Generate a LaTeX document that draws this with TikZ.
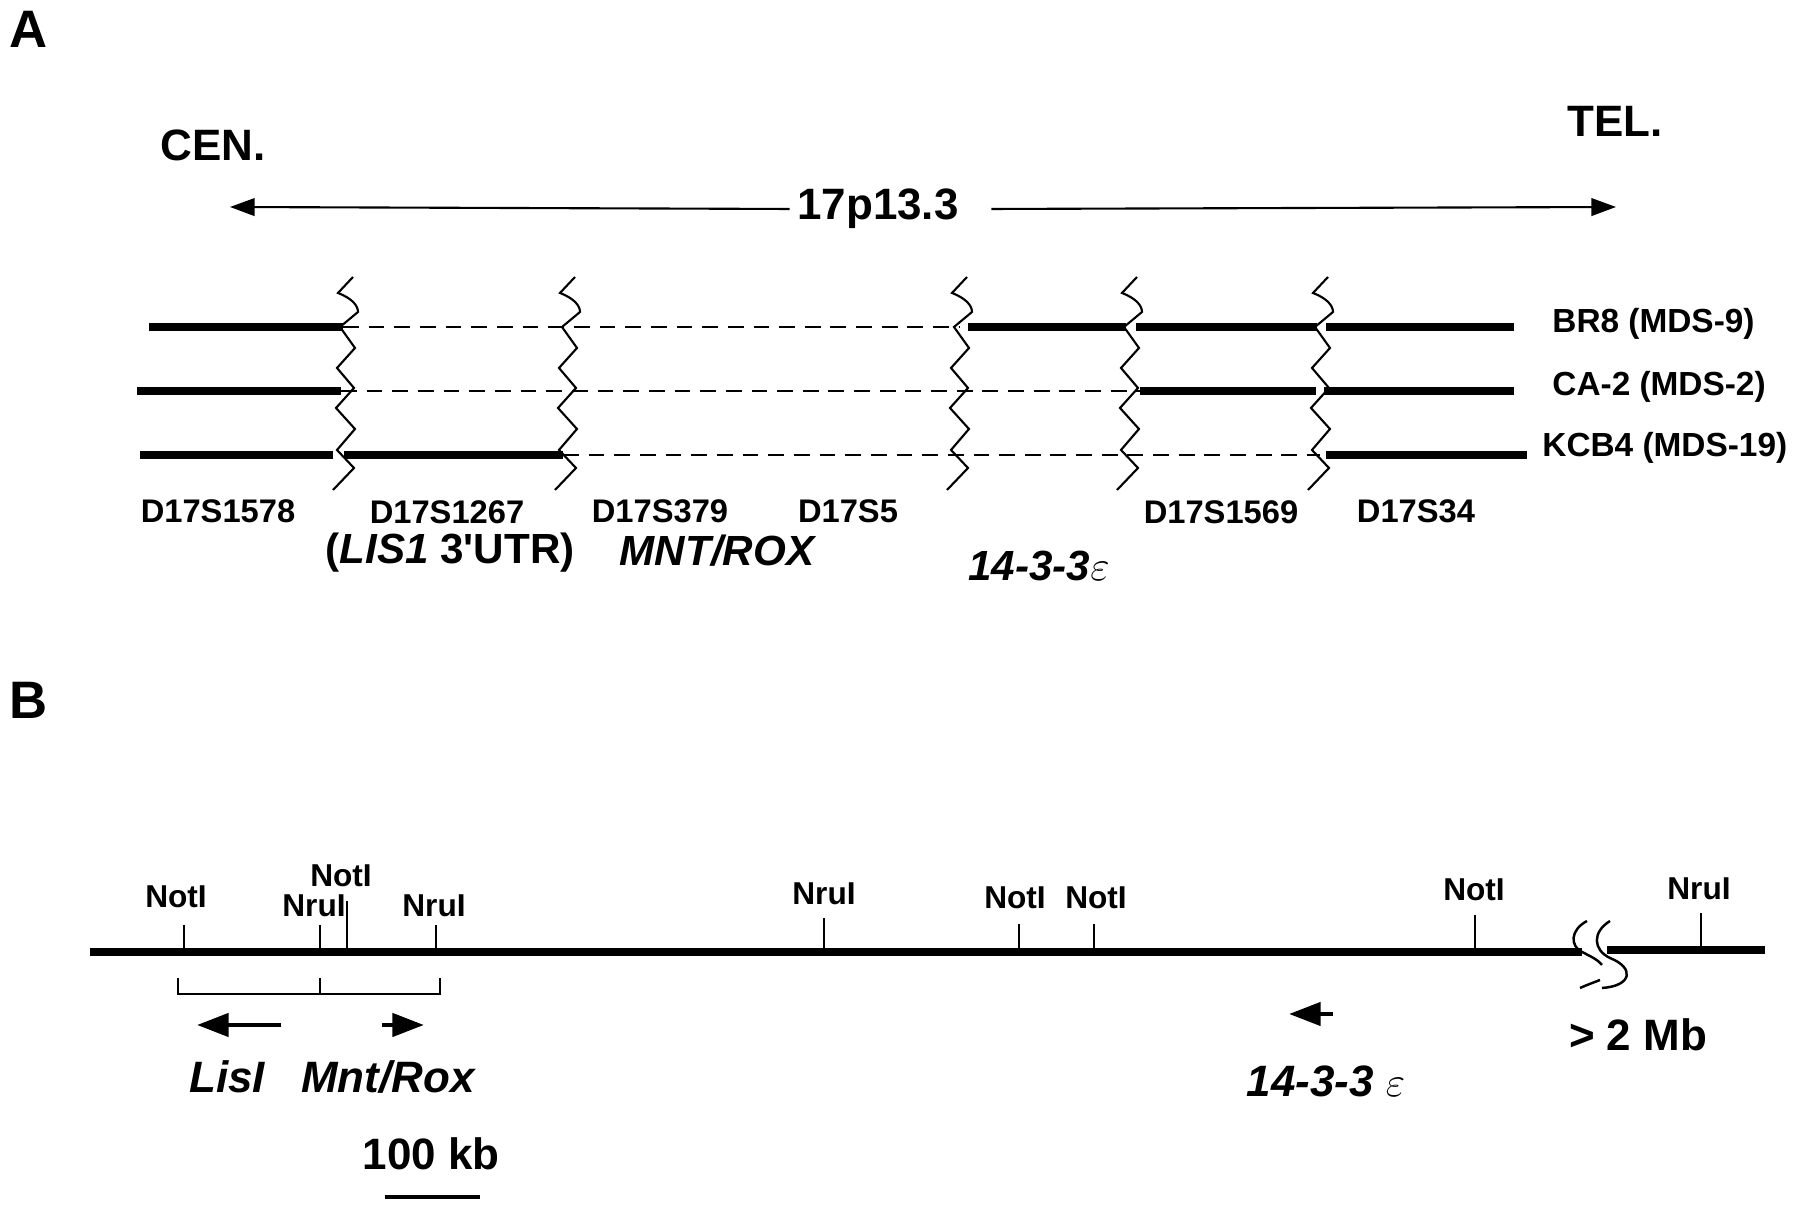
\documentclass[tikz,border=0pt]{standalone}
\usepackage{fontspec}
\setmainfont{Liberation Sans}
\usetikzlibrary{arrows.meta}

\begin{document}
\begin{tikzpicture}[x=1cm,y=-1cm,
  seg/.style={line width=2.3pt},
  gapline/.style={line width=0.55pt, dash pattern=on 4.5pt off 2.8pt},
  brk/.style={line width=0.6pt},
  site/.style={line width=0.5pt},
  panel/.style={font=\fontsize{15}{17}\selectfont\bfseries},
  marker/.style={font=\fontsize{9.3}{11}\selectfont\bfseries},
  patient/.style={font=\fontsize{9.5}{11}\selectfont\bfseries, anchor=west},
  enzyme/.style={font=\fontsize{9}{11}\selectfont\bfseries},
  genename/.style={font=\fontsize{12}{14}\selectfont\bfseries},
  bigtext/.style={font=\fontsize{12.5}{15}\selectfont\bfseries},
  gene/.style={line width=1.4pt, -{Triangle[length=9pt,width=6.5pt]}}]
\useasboundingbox (0,0) rectangle (18,12.05);

% Panel A
\node[panel] (pa) at (0.29,0.29) {A};
\node[bigtext] (cen) at (2.13,1.45) {CEN.};
\node[bigtext] (tel) at (16.15,1.21) {TEL.};

% Chromosome band with arrows to both ends
\node[bigtext, inner sep=2pt] (band) at (8.78,2.09) {17p13.3};
\coordinate (cenend) at (2.30,2.07);
\coordinate (telend) at (16.16,2.07);
\draw[line width=0.6pt, -{Triangle[length=7pt,width=5pt]}] (band.west) -- (cenend);
\draw[line width=0.6pt, -{Triangle[length=7pt,width=5pt]}] ([xshift=0.25cm]band.east) -- (telend);

% Retained regions (solid) and deleted regions (dashed)
\draw[seg] (1.49,3.27) -- (3.43,3.27);
\draw[gapline] (3.43,3.27) -- (9.60,3.27);
\draw[seg] (9.68,3.27) -- (11.26,3.27);
\draw[seg] (11.36,3.27) -- (13.17,3.27);
\draw[seg] (13.26,3.27) -- (15.14,3.27);

\draw[seg] (1.37,3.91) -- (3.41,3.91);
\draw[gapline] (3.41,3.91) -- (11.40,3.91);
\draw[seg] (11.40,3.91) -- (13.16,3.91);
\draw[seg] (13.24,3.91) -- (15.14,3.91);

\draw[seg] (1.40,4.55) -- (3.33,4.55);
\draw[seg] (3.44,4.55) -- (5.63,4.55);
\draw[gapline] (5.63,4.55) -- (13.20,4.55);
\draw[seg] (13.26,4.55) -- (15.27,4.55);

% Breaks between markers
\foreach \bx in {3.46,5.68,9.60,11.30,13.21} {
  \draw[brk] (\bx+0.07,2.77) -- (\bx-0.08,2.93)
    .. controls (\bx+0.05,2.98) and (\bx+0.12,3.05) .. (\bx+0.12,3.12)
    -- (\bx-0.06,3.27) -- (\bx+0.09,3.48) -- (\bx-0.09,3.68) -- (\bx+0.08,3.88)
    -- (\bx-0.10,4.08) -- (\bx+0.09,4.29) -- (\bx-0.09,4.50) -- (\bx+0.08,4.68)
    -- (\bx-0.13,4.90);
}

% Patient labels
\node[patient] (br8) at (15.40,3.24) {BR8 (MDS-9)};
\node[patient] (ca2) at (15.40,3.87) {CA-2 (MDS-2)};
\node[patient] (kcb4) at (15.30,4.48) {KCB4 (MDS-19)};

% Marker labels
\node[marker] (m1578) at (2.18,5.11) {D17S1578};
\node[marker] (m1267) at (4.47,5.12) {D17S1267};
\node[marker] (m379) at (6.60,5.11) {D17S379};
\node[marker] (m5) at (8.48,5.11) {D17S5};
\node[marker] (m1569) at (12.21,5.12) {D17S1569};
\node[marker] (m34) at (14.16,5.11) {D17S34};
\node[genename] (lis) at (4.50,5.53) {({\itshape LIS1} 3\textquotesingle UTR)};
\node[genename] (mnt) at (7.17,5.51) {\itshape MNT/ROX};
\node[genename] (ywha) at (10.39,5.66) {\itshape 14-3-3$\varepsilon$};

% Panel B
\node[panel] (pb) at (0.29,7.00) {B};

% Restriction map
\draw[line width=2pt] (0.90,9.52) -- (15.82,9.52);
\draw[line width=2pt] (16.07,9.50) -- (17.65,9.50);
\foreach \sx/\st/\lx/\ly/\enz [count=\i] in {
    1.84/9.25/1.76/8.97/NotI, 3.20/9.25/3.14/9.06/NruI,
    3.47/9.01/3.41/8.76/NotI, 4.36/9.25/4.34/9.06/NruI,
    8.24/9.18/8.24/8.94/NruI, 10.19/9.24/10.15/8.98/NotI,
    10.94/9.24/10.96/8.98/NotI, 14.75/9.15/14.74/8.90/NotI,
    17.01/9.13/16.99/8.89/NruI} {
  \draw[site] (\sx,\st) -- (\sx,9.52);
  \node[enzyme] (site\i) at (\lx,\ly) {\enz};
}

% Break in the map
\draw[line width=0.7pt] (15.87,9.21) .. controls (15.70,9.30) and (15.70,9.46) .. (15.82,9.52)
  .. controls (15.92,9.57) and (15.98,9.60) .. (16.02,9.65);
\draw[line width=0.7pt] (15.80,9.88) .. controls (15.87,9.85) .. (16.00,9.80);
\draw[line width=0.7pt] (16.10,9.21) .. controls (15.92,9.32) and (15.93,9.50) .. (16.10,9.58)
  .. controls (16.35,9.68) and (16.32,9.86) .. (16.02,9.88);
\node[bigtext] (mb) at (16.38,10.35) {> 2 Mb};

% Gene extent
\draw[site] (1.78,9.78) -- (1.78,9.94) -- (4.40,9.94) -- (4.40,9.78);
\draw[site] (3.20,9.78) -- (3.20,9.94);

% Transcription direction
\coordinate (listail) at (2.81,10.25);
\coordinate (listip) at (1.97,10.25);
\coordinate (mnttail) at (3.82,10.25);
\coordinate (mnttip) at (4.24,10.25);
\coordinate (ywtail) at (13.33,10.14);
\coordinate (ywtip) at (12.89,10.14);
\draw[gene] (listail) -- (listip);
\draw[gene] (mnttail) -- (mnttip);
\draw[gene] (ywtail) -- (ywtip);

\node[bigtext] (lisb) at (2.27,10.77) {\itshape LisI};
\node[bigtext] (mntb) at (3.88,10.77) {\itshape Mnt/Rox};
\node[bigtext] (ywb) at (13.26,10.81) {\itshape 14-3-3 $\varepsilon$};

% Scale
\node[bigtext] (scale) at (4.31,11.54) {100 kb};
\draw[line width=1pt] (3.85,11.97) -- (4.80,11.97);
\end{tikzpicture}
\end{document}
